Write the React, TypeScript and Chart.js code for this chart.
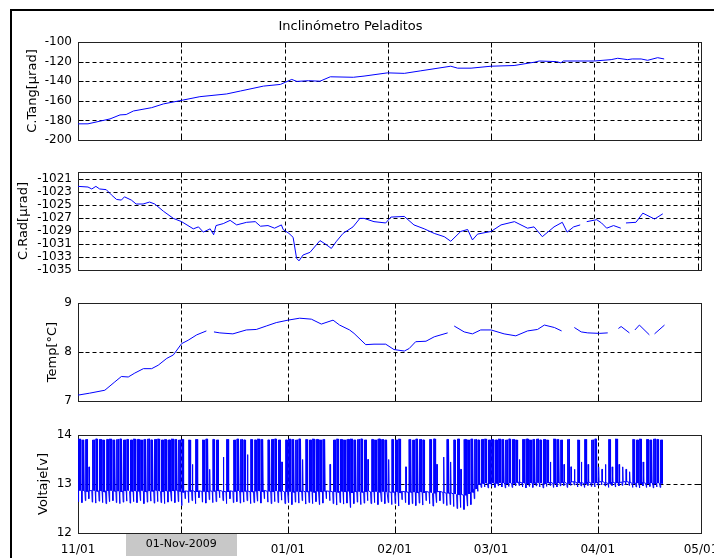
import React, { useEffect, useRef } from 'react';
import { Chart, registerables } from 'chart.js';

Chart.register(...registerables);

const FONT = "'DejaVu Sans', sans-serif";

const chartTitle = 'Inclinómetro Peladitos';
const dateBoxLabel = '01-Nov-2009';

// x in days since 01-Nov-2009
const xMin = 0;
const xMax = 181;
const xTicksAuto = [0, 30, 60, 90, 120, 150, 180];
const xTicksMonth = [0, 30, 61, 92, 120, 151, 181];
const xTickLabels = ['11/01', '12/01', '01/01', '02/01', '03/01', '04/01', '05/01'];

// C.Tang
const tangLabel = 'C.Tang[μrad]';
const tangTicks = [-200, -180, -160, -140, -120, -100];
const tangDays = [0, 2.9, 9.3, 12.2, 14, 16.1, 21.4, 24.8, 29.6, 35.4, 43.2, 47.2, 53.9, 58.8, 62.1, 63.6, 67, 70.3, 73.3, 80, 83.1, 89.9, 94.8, 99.6, 108.3, 110.3, 114.2, 120, 126.7, 132.6, 134, 139, 140.3, 141, 150, 154.9, 156.8, 159.7, 161, 163.6, 165.5, 168.4, 170.3];
const tangVals = [-183.5, -183.5, -178.5, -174.4, -174, -170.4, -167, -163.2, -159.9, -155.8, -153, -150, -145, -143.3, -138.2, -140.2, -139.5, -140, -135.5, -136, -134.8, -131.5, -132, -129.4, -124.7, -126.7, -126.7, -124.7, -124, -120.6, -119.4, -120, -121.3, -119.4, -119.4, -118, -116.6, -118, -117.3, -117.3, -118.7, -116, -117.3];

// C.Rad
const radLabel = 'C.Rad[μrad]';
const radTicks = [-1035, -1033, -1031, -1029, -1027, -1025, -1023, -1021];
const radDays = [0, 2.9, 4, 5.2, 6.3, 8.2, 9.7, 11.2, 12.6, 13.5, 15.5, 16.9, 18.9, 20.8, 22.3, 24.8, 27.7, 30.1, 33.5, 35, 36.4, 38.4, 39.4, 40.1, 42.2, 44.2, 46.1, 49, 51.5, 53, 55.2, 57.1, 59.1, 59.6, 61.3, 62.5, 63.5, 64.2, 65.4, 67.4, 70.3, 71.8, 73.6, 75.1, 77, 79.9, 81.9, 83.1, 86, 89.4, 90.9, 94.8, 97.6, 100.6, 103.5, 106.4, 108.3, 111.2, 113.2, 114.6, 116.1, 120, 122.9, 126.8, 130.6, 132.5, 134.9, 138.3, 140.7, 142.1, 144, 145.9, 146.8, 147.8, 150.7, 152.1, 153.6, 155.6, 157.7, 158.4, 159.2, 162.1, 164.1, 167.5, 169.9];
const radVals = [-1022.2, -1022.3, -1022.6, -1022.2, -1022.6, -1022.7, -1023.5, -1024.2, -1024.3, -1023.8, -1024.3, -1024.9, -1024.9, -1024.6, -1024.9, -1026.0, -1027.1, -1027.6, -1028.7, -1028.4, -1029.2, -1028.7, -1029.6, -1028.2, -1027.9, -1027.4, -1028.1, -1027.7, -1027.6, -1028.3, -1028.2, -1028.6, -1028.1, -1028.8, -1029.4, -1030, -1033.2, -1033.6, -1032.7, -1032.3, -1030.5, -1031, -1031.7, -1030.6, -1029.4, -1028.4, -1027.1, -1027.1, -1027.6, -1027.8, -1026.9, -1026.8, -1028.1, -1028.7, -1029.4, -1029.9, -1030.6, -1029.1, -1028.8, -1030.4, -1029.5, -1029.1, -1028.1, -1027.6, -1028.6, -1028.4, -1029.9, -1028.4, -1027.7, -1029.2, -1028.4, -1028.1, null, -1027.6, -1027.3, -1027.8, -1028.6, -1028.2, -1028.6, null, -1027.8, -1027.7, -1026.3, -1027.2, -1026.4];

// Temp
const tempLabel = 'Temp[°C]';
const tempTicks = [7, 8, 9];
const tempDays = [0, 3.4, 7.8, 10.7, 12.6, 14.6, 16.5, 19, 21.4, 23.3, 25.8, 27.7, 30.1, 32, 34.5, 37.3, 38.5, 39.5, 41.2, 45, 48.9, 51.8, 54.7, 57.6, 61, 64.4, 67.8, 70.7, 74.1, 76, 78.9, 80.2, 83.6, 86, 89.4, 91.8, 94.8, 96.2, 98.1, 101.1, 103.5, 107.4, 108.3, 109.3, 112.2, 114.6, 117, 120, 123.8, 127.2, 130.6, 133.5, 135.5, 138.4, 140.5, 141, 141.8, 143, 144.2, 146.2, 148.1, 151.5, 153.9, 155, 157, 157.8, 160.2, 161, 161.8, 163.1, 166, 167, 167.5, 170.4];
const tempVals = [7.12, 7.16, 7.22, 7.39, 7.5, 7.49, 7.57, 7.66, 7.66, 7.73, 7.87, 7.94, 8.17, 8.24, 8.35, 8.43, null, 8.41, 8.39, 8.37, 8.45, 8.46, 8.53, 8.6, 8.65, 8.69, 8.67, 8.57, 8.65, 8.55, 8.45, 8.38, 8.15, 8.16, 8.16, 8.05, 8.02, 8.07, 8.21, 8.22, 8.31, 8.39, null, 8.53, 8.41, 8.37, 8.45, 8.45, 8.37, 8.33, 8.43, 8.46, 8.55, 8.5, 8.43, null, 8.41, null, 8.5, 8.41, 8.39, 8.38, 8.39, null, 8.48, 8.52, 8.39, null, 8.45, 8.55, 8.35, null, 8.37, 8.55];

// Voltaje: one entry per day (day 0 = 01-Nov); peak null = no charge that day
const voltLabel = 'Voltaje[v]';
const voltTicks = [12, 13, 14];
const voltPeak = [
  13.92, 13.90, 13.91, 13.35, 13.90, 13.92, 13.91, 13.90, 13.91, 13.92,
  13.90, 13.91, 13.92, 13.90, 13.91, 13.90, 13.92, 13.91, 13.90, 13.91,
  13.92, 13.90, 13.91, 13.92, 13.90, 13.91, 13.90, 13.92, 13.91, 13.90,
  13.91, null, 13.90, 13.40, 13.91, null, 13.90, 13.92, 13.30, 13.91,
  13.90, null, 13.55, 13.91, null, 13.90, 13.92, 13.91, 13.90, 13.60,
  13.91, 13.90, 13.92, 13.91, null, 13.90, 13.91, 13.92, 13.90, 13.45,
  13.90, 13.92, 13.91, 13.90, 13.92, 13.50, 13.91, 13.90, 13.92, 13.91,
  13.90, 13.91, null, 13.40, 13.90, 13.92, 13.91, 13.90, 13.91, 13.92,
  13.90, 13.91, 13.92, 13.90, 13.50, 13.91, 13.90, 13.92, 13.91, 13.90,
  13.50, 13.91, 13.90, 13.92, null, 13.35, 13.91, 13.90, 13.92, 13.91,
  13.90, null, 13.91, 13.92, 13.40, null, 13.55, 13.91, 13.45, 13.90,
  13.92, 13.30, 13.91, 13.90, 13.92, 13.91, 13.90, 13.91, 13.92, 13.90,
  13.91, 13.90, 13.92, 13.91, 13.90, 13.92, 13.91, 13.90, 13.50, 13.91,
  13.92, 13.90, 13.91, 13.92, 13.90, 13.91, 13.90, 13.45, 13.92, 13.91,
  13.90, 13.40, 13.91, 13.35, 13.30, 13.90, 13.45, 13.91, 13.40, 13.90,
  13.92, 13.35, 13.30, 13.40, 13.91, 13.35, 13.92, 13.40, 13.35, 13.30,
  13.25, 13.91, 13.90, 13.92, 13.45, 13.91, 13.90, 13.92, 13.91, 13.90,
];
const voltMin = [
  12.64, 12.62, 12.66, 12.70, 12.63, 12.61, 12.65, 12.62, 12.60, 12.64,
  12.66, 12.62, 12.60, 12.63, 12.65, 12.61, 12.64, 12.62, 12.66, 12.60,
  12.63, 12.65, 12.61, 12.64, 12.62, 12.60, 12.63, 12.65, 12.62, 12.64,
  12.56, 12.70, 12.62, 12.66, 12.60, 12.72, 12.63, 12.61, 12.68, 12.62,
  12.64, 12.72, 12.66, 12.60, 12.70, 12.62, 12.64, 12.61, 12.63, 12.66,
  12.60, 12.62, 12.65, 12.61, 12.70, 12.63, 12.60, 12.64, 12.62, 12.67,
  12.60, 12.62, 12.58, 12.63, 12.61, 12.66, 12.59, 12.62, 12.60, 12.64,
  12.58, 12.61, 12.70, 12.66, 12.60, 12.57, 12.62, 12.59, 12.61, 12.52,
  12.60, 12.63, 12.58, 12.61, 12.66, 12.60, 12.62, 12.58, 12.64, 12.60,
  12.62, 12.58, 12.60, 12.55, 12.68, 12.62, 12.58, 12.60, 12.56, 12.61,
  12.57, 12.66, 12.60, 12.55, 12.62, 12.66, 12.60, 12.56, 12.58, 12.54,
  12.50, 12.52, 12.48, 12.55, 12.58, 12.70, 12.85, 12.93, 12.94, 12.92,
  12.95, 12.93, 12.96, 12.94, 12.92, 12.95, 12.93, 12.96, 12.97, 12.94,
  12.92, 12.95, 12.93, 12.96, 12.94, 12.92, 12.95, 12.97, 12.93, 12.94,
  12.96, 12.97, 12.93, 12.97, 12.98, 12.94, 12.96, 12.93, 12.97, 12.95,
  12.94, 12.97, 12.98, 12.96, 12.93, 12.97, 12.94, 12.96, 12.97, 12.98,
  12.97, 12.93, 12.94, 12.92, 12.96, 12.93, 12.95, 12.92, 12.94, 12.93,
];
const voltFloat = [
  12.87, 12.86, 12.85, 12.86, 12.87, 12.85, 12.86, 12.84, 12.86, 12.87,
  12.85, 12.86, 12.84, 12.86, 12.87, 12.85, 12.86, 12.85, 12.87, 12.84,
  12.86, 12.85, 12.87, 12.86, 12.84, 12.86, 12.85, 12.86, 12.87, 12.85,
  12.83, 12.86, 12.85, 12.87, 12.84, 12.86, 12.85, 12.84, 12.86, 12.85,
  12.86, 12.87, 12.85, 12.84, 12.86, 12.85, 12.86, 12.84, 12.85, 12.86,
  12.84, 12.85, 12.86, 12.84, 12.87, 12.85, 12.84, 12.86, 12.85, 12.86,
  12.84, 12.85, 12.83, 12.85, 12.84, 12.86, 12.84, 12.85, 12.83, 12.85,
  12.84, 12.85, 12.86, 12.85, 12.84, 12.83, 12.85, 12.84, 12.85, 12.82,
  12.84, 12.85, 12.83, 12.84, 12.86, 12.84, 12.85, 12.83, 12.85, 12.84,
  12.84, 12.83, 12.84, 12.82, 12.85, 12.84, 12.83, 12.84, 12.82, 12.84,
  12.82, 12.85, 12.83, 12.81, 12.84, 12.85, 12.83, 12.81, 12.82, 12.80,
  12.78, 12.79, 12.77, 12.80, 12.83, 12.90, 12.98, 13.01, 13.02, 13.00,
  13.02, 13.01, 13.03, 13.02, 13.00, 13.02, 13.01, 13.03, 13.04, 13.02,
  13.00, 13.02, 13.01, 13.03, 13.02, 13.00, 13.02, 13.04, 13.01, 13.02,
  13.03, 13.04, 13.01, 13.04, 13.05, 13.02, 13.03, 13.01, 13.04, 13.02,
  13.02, 13.04, 13.05, 13.03, 13.01, 13.04, 13.02, 13.03, 13.04, 13.05,
  13.04, 13.01, 13.02, 13.00, 13.03, 13.01, 13.02, 13.00, 13.02, 13.01,
];

function toPoints(days: number[], vals: (number | null)[]) {
  return days.map((d, i) => ({ x: d, y: vals[i] }));
}

// daily charge cycle drawn from the per-day readings (float, dawn minimum, charge peak)
function voltPoints() {
  const pts: { x: number; y: number }[] = [];
  for (let i = 0; i < voltPeak.length; i++) {
    const f = voltFloat[i];
    const m = voltMin[i];
    const p = voltPeak[i];
    pts.push({ x: i, y: f });
    pts.push({ x: i + 0.14, y: m });
    if (p === null) {
      pts.push({ x: i + 0.2, y: f });
    } else if (p < 13.8) {
      pts.push({ x: i + 0.2, y: p });
      pts.push({ x: i + 0.32, y: p });
      pts.push({ x: i + 0.38, y: f });
    } else {
      pts.push({ x: i + 0.2, y: p });
      pts.push({ x: i + 0.32, y: p });
      pts.push({ x: i + 0.36, y: f });
      pts.push({ x: i + 0.41, y: p });
      pts.push({ x: i + 0.53, y: p });
      pts.push({ x: i + 0.57, y: f });
      pts.push({ x: i + 0.62, y: p });
      pts.push({ x: i + 0.74, y: p });
      pts.push({ x: i + 0.79, y: f });
    }
  }
  return pts;
}

const matlabAxes = {
  id: 'matlabAxes',
  beforeDatasetsDraw(chart: any, _args: any, opts: any) {
    const { ctx, chartArea: a } = chart;
    const xs = chart.scales.x;
    const ys = chart.scales.y;
    const L = Math.round(a.left) + 0.5;
    const R = Math.round(a.right) + 0.5;
    const T = Math.round(a.top) + 0.5;
    const B = Math.round(a.bottom) + 0.5;
    ctx.save();
    ctx.lineWidth = 1;
    ctx.strokeStyle = '#000';
    ctx.setLineDash([4, 3]);
    ctx.beginPath();
    for (const v of opts.xTicks) {
      if (v <= xs.min || v >= xs.max) continue;
      const px = Math.round(xs.getPixelForValue(v)) + 0.5;
      ctx.moveTo(px, T);
      ctx.lineTo(px, B);
    }
    for (const v of opts.yTicks) {
      if (v <= ys.min || v >= ys.max) continue;
      const py = Math.round(ys.getPixelForValue(v)) + 0.5;
      ctx.moveTo(L, py);
      ctx.lineTo(R, py);
    }
    ctx.stroke();
    ctx.setLineDash([]);
    ctx.beginPath();
    const tl = 5;
    for (const v of opts.xTicks) {
      const px = Math.round(xs.getPixelForValue(v)) + 0.5;
      ctx.moveTo(px, B);
      ctx.lineTo(px, B - tl);
      ctx.moveTo(px, T);
      ctx.lineTo(px, T + tl);
    }
    for (const v of opts.yTicks) {
      const py = Math.round(ys.getPixelForValue(v)) + 0.5;
      ctx.moveTo(L, py);
      ctx.lineTo(L + tl, py);
      ctx.moveTo(R, py);
      ctx.lineTo(R - tl, py);
    }
    ctx.stroke();
    ctx.strokeStyle = '#222';
    ctx.strokeRect(L, T, R - L, B - T);
    ctx.restore();
  },
};

const dateBox = {
  id: 'dateBox',
  afterDraw(chart: any, _args: any, opts: any) {
    if (!opts || !opts.show) return;
    const { ctx, chartArea: a } = chart;
    const cx = chart.scales.x.getPixelForValue(xTicksMonth[1]);
    const w = 111;
    const top = Math.round(a.bottom) + 1;
    ctx.save();
    ctx.fillStyle = '#c8c8c8';
    ctx.fillRect(Math.round(cx - w / 2), top, w, 22);
    ctx.fillStyle = '#000';
    ctx.font = `11px ${FONT}`;
    ctx.textAlign = 'center';
    ctx.textBaseline = 'middle';
    ctx.fillText(dateBoxLabel, cx, top + 10);
    ctx.restore();
  },
};

type PanelDef = {
  top: number;
  height: number;
  padTop: number;
  padBottom: number;
  xAxisH: number;
  title?: boolean;
  yLabel: string;
  yLabelPad: number;
  yMin: number;
  yMax: number;
  yTicks: number[];
  xTicks: number[];
  showXLabels: boolean;
  data: { x: number; y: number | null }[];
};

const panels: PanelDef[] = [
  { top: 0, height: 152, padTop: 0, padBottom: 12, xAxisH: 0, title: true, yLabel: tangLabel, yLabelPad: 25, yMin: -200, yMax: -100, yTicks: tangTicks, xTicks: xTicksAuto, showXLabels: false, data: toPoints(tangDays, tangVals) },
  { top: 160, height: 122, padTop: 12, padBottom: 12, xAxisH: 0, yLabel: radLabel, yLabelPad: 16, yMin: -1035, yMax: -1020, yTicks: radTicks, xTicks: xTicksAuto, showXLabels: false, data: toPoints(radDays, radVals) },
  { top: 291, height: 122, padTop: 12, padBottom: 12, xAxisH: 0, yLabel: tempLabel, yLabelPad: 45, yMin: 7, yMax: 9, yTicks: tempTicks, xTicks: xTicksMonth, showXLabels: false, data: toPoints(tempDays, tempVals) },
  { top: 423, height: 135, padTop: 12, padBottom: 0, xAxisH: 25, yLabel: voltLabel, yLabelPad: 36, yMin: 12, yMax: 14, yTicks: voltTicks, xTicks: xTicksMonth, showXLabels: true, data: voltPoints() },
];

function Panel({ def }: { def: PanelDef }) {
  const ref = useRef<HTMLCanvasElement | null>(null);
  useEffect(() => {
    if (!ref.current) return;
    const chart = new Chart(ref.current, {
      type: 'line',
      data: {
        datasets: [
          {
            data: def.data as any,
            borderColor: '#0000ff',
            borderWidth: 1,
            pointRadius: 0,
            tension: 0,
            spanGaps: false,
            fill: false,
          },
        ],
      },
      options: {
        responsive: false,
        maintainAspectRatio: false,
        animation: false,
        events: [],
        layout: { padding: { left: 0, right: 13, top: def.padTop, bottom: def.padBottom } },
        plugins: {
          legend: { display: false },
          tooltip: { enabled: false },
          title: {
            display: !!def.title,
            text: chartTitle,
            color: '#000',
            font: { family: FONT, size: 13, weight: 'normal' },
            padding: { top: 19, bottom: 7.4 },
          },
          matlabAxes: { xTicks: def.xTicks, yTicks: def.yTicks },
          dateBox: { show: def.showXLabels },
        } as any,
        scales: {
          x: {
            type: 'linear',
            min: xMin,
            max: xMax,
            grid: { display: false },
            border: { display: false },
            afterBuildTicks: (s: any) => {
              s.ticks = def.xTicks.map((v) => ({ value: v }));
            },
            afterFit: (s: any) => {
              s.height = def.xAxisH;
              s.paddingLeft = 0;
              s.paddingRight = 0;
            },
            ticks: {
              display: def.showXLabels,
              autoSkip: false,
              maxRotation: 0,
              minRotation: 0,
              padding: 2,
              color: '#000',
              font: { family: FONT, size: 12 },
              callback: (_v: any, i: number) => xTickLabels[i],
            },
          },
          y: {
            type: 'linear',
            min: def.yMin,
            max: def.yMax,
            grid: { display: false, drawTicks: false },
            border: { display: false },
            afterBuildTicks: (s: any) => {
              s.ticks = def.yTicks.map((v) => ({ value: v }));
            },
            afterFit: (s: any) => {
              s.width = 78;
              s.paddingTop = 0;
              s.paddingBottom = 0;
            },
            ticks: {
              padding: 6,
              color: '#000',
              autoSkip: false,
              font: { family: FONT, size: 12 },
              callback: (v: any) => String(v),
            },
            title: {
              display: true,
              text: def.yLabel,
              color: '#000',
              font: { family: FONT, size: 13 },
              padding: { top: def.yLabelPad, bottom: 0 },
            },
          },
        },
      },
      plugins: [matlabAxes, dateBox],
    } as any);
    return () => chart.destroy();
  }, [def]);
  return (
    <canvas
      ref={ref}
      width={714}
      height={def.height}
      style={{ position: 'absolute', left: 0, top: def.top, width: 714, height: def.height }}
    />
  );
}

export default function App() {
  return (
    <div
      style={{
        position: 'fixed',
        left: 0,
        top: 0,
        width: 714,
        height: 558,
        overflow: 'hidden',
        background: '#fff',
      }}
    >
      <div
        style={{
          position: 'absolute',
          left: 10,
          top: 9,
          width: 800,
          height: 700,
          borderTop: '2px solid #000',
          borderLeft: '2px solid #000',
        }}
      />
      {panels.map((p, i) => (
        <Panel key={i} def={p} />
      ))}
    </div>
  );
}
